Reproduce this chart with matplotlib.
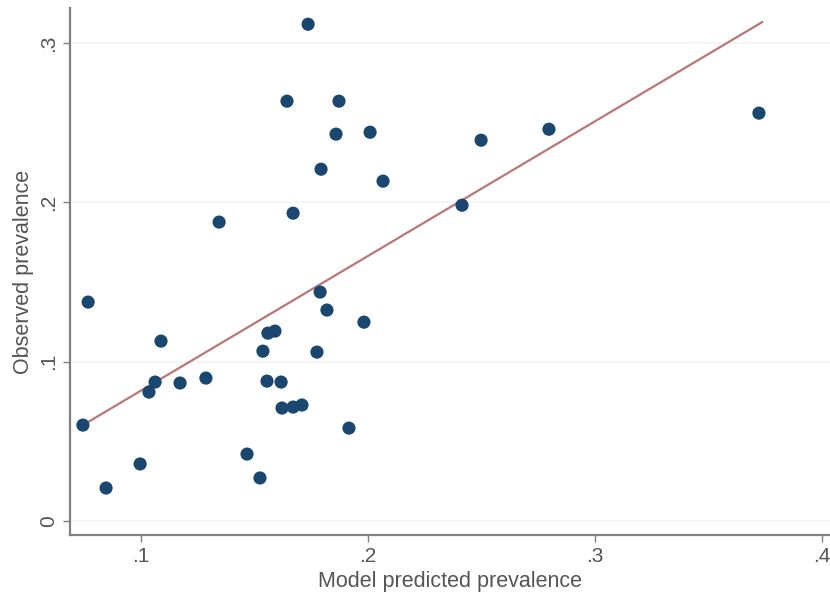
import matplotlib.pyplot as plt

# Données
predicted = [0.0744, 0.0767, 0.0846, 0.0996, 0.1035, 0.1062, 0.1088, 0.1172, 0.1286,
             0.1344, 0.1467, 0.1524, 0.1537, 0.1555, 0.1559, 0.1590, 0.1617, 0.1621,
             0.1643, 0.1670, 0.1670, 0.1709, 0.1736, 0.1775, 0.1789, 0.1793, 0.1819,
             0.1859, 0.1872, 0.1916, 0.1982, 0.2009, 0.2066, 0.2414, 0.2498, 0.2797,
             0.3722]
observed = [0.0602, 0.1374, 0.0207, 0.0358, 0.0809, 0.0872, 0.1129, 0.0866, 0.0897,
            0.1876, 0.0420, 0.0270, 0.1066, 0.0878, 0.1179, 0.1192, 0.0872, 0.0709,
            0.2635, 0.1932, 0.0715, 0.0728, 0.3118, 0.1060, 0.1437, 0.2208, 0.1324,
            0.2428, 0.2635, 0.0583, 0.1248, 0.2440, 0.2133, 0.1982, 0.2390, 0.2459,
            0.2560]

# Droite ajustée (extrémités)
fit_x = [0.0744, 0.3736]
fit_y = [0.0602, 0.3131]

x_ticks = [0.1, 0.2, 0.3, 0.4]
x_labels = ['.1', '.2', '.3', '.4']
y_ticks = [0, 0.1, 0.2, 0.3]
y_labels = ['0', '.1', '.2', '.3']

plt.rcParams['font.family'] = ['Liberation Sans', 'DejaVu Sans']

fig = plt.figure(figsize=(8.3, 6.04), dpi=100)
ax = fig.add_axes([0.0843, 0.1142, 0.9157, 0.8726])

ax.plot(fit_x, fit_y, color='#bb7676', linewidth=1.6, zorder=2)
ax.scatter(predicted, observed, s=90, color='#1a476f', edgecolors='none', zorder=3)

ax.set_xlim(0.0687, 0.4035)
ax.set_ylim(-0.0088, 0.322)
ax.set_xticks(x_ticks)
ax.set_xticklabels(x_labels)
ax.set_yticks(y_ticks)
ax.set_yticklabels(y_labels, rotation=90, va='center')

ax.grid(axis='y', color='#f3f3f3', linewidth=1.2)
ax.set_axisbelow(True)
for side in ['top', 'right']:
    ax.spines[side].set_visible(False)
for side in ['left', 'bottom']:
    ax.spines[side].set_color('#808080')
    ax.spines[side].set_linewidth(1.6)
ax.tick_params(colors='#808080', labelcolor='#555555', labelsize=15, length=5, width=1)

ax.set_xlabel('Model predicted prevalence', fontsize=15.5, color='#555555', labelpad=4)
ax.set_ylabel('Observed prevalence', fontsize=15.5, color='#555555', labelpad=4)

fig.savefig('out.png', dpi=100)
